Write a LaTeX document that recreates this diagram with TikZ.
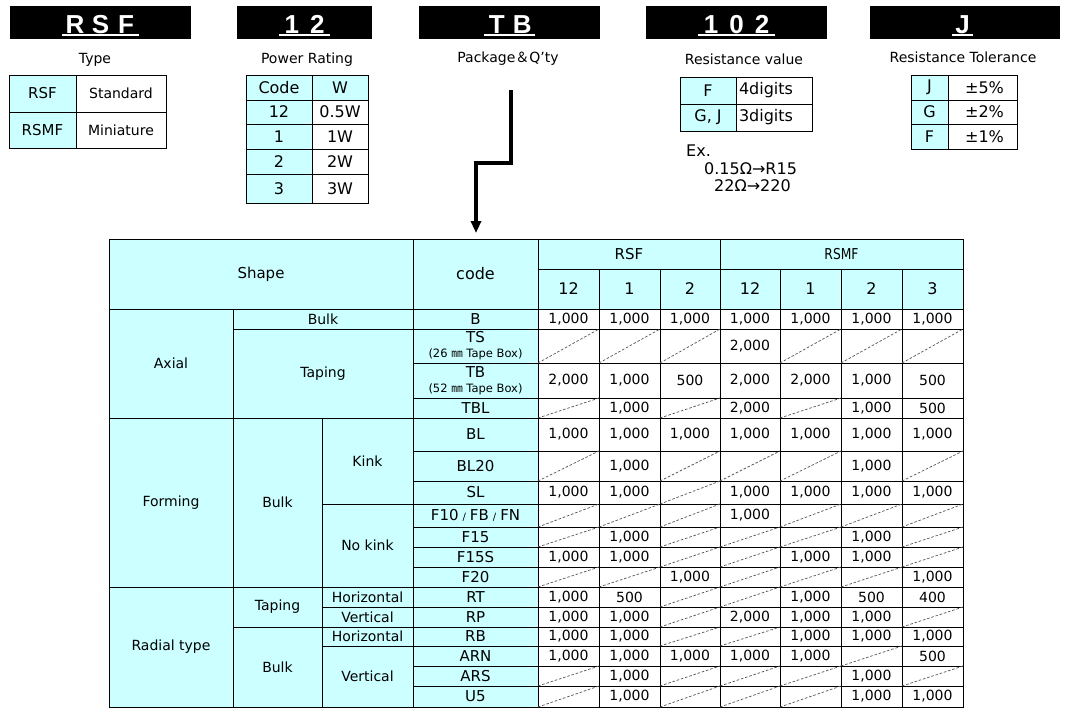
\documentclass[tikz,border=0pt]{standalone}
\usepackage{fontspec}
\usepackage{graphicx}
\setmainfont{DejaVu Sans}
\newfontfamily\ttlfont{Liberation Sans}
\newfontfamily\cjkfont{Noto Sans CJK JP}
\usetikzlibrary{arrows.meta}
\definecolor{cyanfill}{RGB}{204,255,255}
\definecolor{diaggray}{RGB}{85,85,85}
\newcommand\fsz[1]{\fontsize{#1}{#1}\selectfont}
\newcommand\narrow[1]{\scalebox{0.82}[1]{#1}}
\newcommand\tch[1]{\makebox[25.5pt]{#1}}
\newcommand\ttlu[1]{\setbox0=\hbox{#1}\rlap{\rule[-3pt]{\wd0}{2.2pt}}\box0}
\newcommand\tcell[7]{\node[#6, minimum width={(#4)-(#2)}, minimum height={(#5)-(#3)}] (#1) at ({((#2)+(#4))/2},{((#3)+(#5))/2}) {#7};}
\def\dx#1{\ifcase#1 538\or 599\or 660\or 720\or 780\or 841\or 902\or 963\fi}
\def\ry#1{\ifcase#1 309\or 329\or 363\or 398\or 418\or 451\or 481\or 504\or 527\or 547\or 567\or 587\or 607\or 627\or 646\or 666\or 686\or 707\fi}
\newcommand\dcell[3]{%
  \pgfmathtruncatemacro\rnext{#1+1}\pgfmathtruncatemacro\cnext{#2+1}%
  \edef\cxa{\dx{#2}}\edef\cxb{\dx{\cnext}}\edef\cya{\ry{#1}}\edef\cyb{\ry{\rnext}}%
  \node[wcell, minimum width={\cxb-\cxa}, minimum height={\cyb-\cya}] (d-#1-#2) at ({(\cxa+\cxb)/2},{(\cya+\cyb)/2}) {\raisebox{-1.5pt}{#3}};%
  \if\relax\detokenize{#3}\relax\draw[diag] (d-#1-#2.south west) -- (d-#1-#2.north east);\fi}
\newcommand\drow[8]{\dcell{#1}{0}{#2}\dcell{#1}{1}{#3}\dcell{#1}{2}{#4}\dcell{#1}{3}{#5}\dcell{#1}{4}{#6}\dcell{#1}{5}{#7}\dcell{#1}{6}{#8}}
\begin{document}
\begin{tikzpicture}[x=1pt,y=-1pt,
  cellbase/.style={rectangle, draw=black, line width=0.9pt, inner sep=0pt, outer sep=0pt, font=\fsz{14}, align=center},
  hcell/.style={cellbase, fill=cyanfill},
  wcell/.style={cellbase, fill=white},
  codecell/.style={hcell, font=\fsz{15}},
  diag/.style={draw=diaggray, line width=0.7pt, dash pattern=on 2.6pt off 1.8pt},
  titlebox/.style={rectangle, fill=black, inner sep=0pt, outer sep=0pt, minimum height=33pt},
  titletext/.style={inner sep=0pt, text=white, font=\ttlfont\bfseries\fsz{26}, anchor=base},
  caption/.style={inner sep=0pt, font=\fsz{14}, anchor=base},
  extext/.style={inner sep=0pt, font=\fsz{16}, anchor=base west},
  bigarrow/.style={line width=3.3pt, -{Triangle[width=10pt,length=12pt]}}
]
\useasboundingbox (0,0) rectangle (1070,718);
\fill[white] (0,0) rectangle (1070,718);
% title boxes
\node[titlebox, minimum width=181pt] (bRSF) at (100.5,22.5) {};
\node[titletext] (tRSF) at (100.5,33) {\ttlu{\tch{R}\tch{S}\tch{F}}};
\node[titlebox, minimum width=135pt] (b12) at (304.5,22.5) {};
\node[titletext] (t12) at (304.5,33) {\ttlu{\tch{1}\tch{2}}};
\node[titlebox, minimum width=181pt] (bTB) at (509.5,22.5) {};
\node[titletext] (tTB) at (509.5,33) {\ttlu{\tch{T}\tch{B}}};
\node[titlebox, minimum width=181pt] (b102) at (736.5,22.5) {};
\node[titletext] (t102) at (736.5,33) {\ttlu{\tch{1}\tch{0}\tch{2}}};
\node[titlebox, minimum width=190pt] (bJ) at (965,22.5) {};
\node[titletext] (tJ) at (962.5,33) {\ttlu{\makebox[21pt]{J}}};
% captions
\node[caption] (capType) at (95,63) {Type};
\node[caption] (capPow) at (307,63) {Power Rating};
\node[caption] (capPkg) at (508,62) {Package{\cjkfont ＆}Q’ty};
\node[caption] (capRes) at (744,64) {Resistance value};
\node[caption] (capTol) at (963,62) {Resistance Tolerance};
% type table
\tcell{ty1}{9}{75}{76}{112}{hcell}{\fsz{15}RSF}
\tcell{ty2}{76}{75}{166}{112}{wcell}{Standard}
\tcell{ty3}{9}{112}{76}{148}{hcell}{\fsz{15}RSMF}
\tcell{ty4}{76}{112}{166}{148}{wcell}{Miniature}
% power table
\tcell{pw1}{246}{75}{312}{100}{hcell}{\fsz{16}Code}
\tcell{pw2}{312}{75}{368}{100}{hcell}{\fsz{16}W}
\tcell{pw3}{246}{100}{312}{124}{hcell}{\fsz{16}12}
\tcell{pw4}{312}{100}{368}{124}{wcell}{\fsz{16}0.5W}
\tcell{pw5}{246}{124}{312}{149}{hcell}{\fsz{16}1}
\tcell{pw6}{312}{124}{368}{149}{wcell}{\fsz{16}1W}
\tcell{pw7}{246}{149}{312}{174}{hcell}{\fsz{16}2}
\tcell{pw8}{312}{149}{368}{174}{wcell}{\fsz{16}2W}
\tcell{pw9}{246}{174}{312}{203}{hcell}{\fsz{16}3}
\tcell{pw10}{312}{174}{368}{203}{wcell}{\fsz{16}3W}
% resistance value table
\tcell{rv1}{680}{77}{736}{104}{hcell}{\fsz{16}F}
\tcell{rv2}{736}{77}{812}{104}{wcell, text width=70pt, align=left}{\fsz{16}4digits}
\tcell{rv3}{680}{104}{736}{131}{hcell}{\fsz{16}G, J}
\tcell{rv4}{736}{104}{812}{131}{wcell, text width=70pt, align=left}{\fsz{16}3digits}
\node[extext] (ex0) at (686,156) {Ex.};
\node[extext] (ex1) at (704,174) {0.15Ω→R15};
\node[extext] (ex2) at (714,191) {22Ω→220};
% tolerance table
\tcell{tl1}{911}{75}{948}{100}{hcell}{\fsz{16}J}
\tcell{tl2}{948}{75}{1017}{100}{wcell}{\fsz{16}\hspace{4pt}±5\%}
\tcell{tl3}{911}{100}{948}{124}{hcell}{\fsz{16}G}
\tcell{tl4}{948}{100}{1017}{124}{wcell}{\fsz{16}\hspace{4pt}±2\%}
\tcell{tl5}{911}{124}{948}{149}{hcell}{\fsz{16}F}
\tcell{tl6}{948}{124}{1017}{149}{wcell}{\fsz{16}\hspace{4pt}±1\%}
% arrow
\coordinate (ar0) at (511,90);
\coordinate (ar1) at (511,163);
\coordinate (ar2) at (476,163);
\coordinate (ar3) at (476,233);
\draw[bigarrow] (ar0) -- (ar1) -- (ar2) -- (ar3);
% main table header
\tcell{hShape}{109}{239}{413}{309}{hcell}{\fsz{15}Shape}
\tcell{hCode}{413}{239}{538}{309}{hcell}{\fsz{16}code}
\tcell{hRSF}{538}{239}{720}{269}{hcell}{\fsz{15}RSF}
\tcell{hRSMF}{720}{239}{963}{269}{hcell}{\fsz{15}\narrow{RSMF}}
\tcell{hs0}{538}{269}{599}{309}{hcell}{\fsz{16}12}
\tcell{hs1}{599}{269}{660}{309}{hcell}{\fsz{16}1}
\tcell{hs2}{660}{269}{720}{309}{hcell}{\fsz{16}2}
\tcell{hs3}{720}{269}{780}{309}{hcell}{\fsz{16}12}
\tcell{hs4}{780}{269}{841}{309}{hcell}{\fsz{16}1}
\tcell{hs5}{841}{269}{902}{309}{hcell}{\fsz{16}2}
\tcell{hs6}{902}{269}{963}{309}{hcell}{\fsz{16}3}
% left labels
\tcell{lAxial}{109}{309}{233}{418}{hcell}{Axial}
\tcell{lABulk}{233}{309}{413}{329}{hcell}{Bulk}
\tcell{lATaping}{233}{329}{413}{418}{hcell}{Taping}
\tcell{lForming}{109}{418}{233}{587}{hcell}{Forming}
\tcell{lFBulk}{233}{418}{322}{587}{hcell}{Bulk}
\tcell{lKink}{322}{418}{413}{504}{hcell}{Kink}
\tcell{lNoKink}{322}{504}{413}{587}{hcell}{No kink}
\tcell{lRadial}{109}{587}{233}{707}{hcell}{Radial type}
\tcell{lRTaping}{233}{587}{322}{627}{hcell}{Taping}
\tcell{lRBulk}{233}{627}{322}{707}{hcell}{Bulk}
\tcell{lH1}{322}{587}{413}{607}{hcell}{Horizontal}
\tcell{lV1}{322}{607}{413}{627}{hcell}{Vertical}
\tcell{lH2}{322}{627}{413}{646}{hcell}{Horizontal}
\tcell{lV2}{322}{646}{413}{707}{hcell}{Vertical}
% code column
\tcell{c0}{413}{309}{538}{329}{codecell}{B}
\tcell{c1}{413}{329}{538}{363}{codecell}{TS\\\fsz{11.5}(26 {\cjkfont ㎜} Tape Box)}
\tcell{c2}{413}{363}{538}{398}{codecell}{TB\\\fsz{11.5}(52 {\cjkfont ㎜} Tape Box)}
\tcell{c3}{413}{398}{538}{418}{codecell}{TBL}
\tcell{c4}{413}{418}{538}{451}{codecell}{BL}
\tcell{c5}{413}{451}{538}{481}{codecell}{BL20}
\tcell{c6}{413}{481}{538}{504}{codecell}{SL}
\tcell{c7}{413}{504}{538}{527}{codecell}{F10{\fsz{10}\hspace{4pt}/\hspace{4pt}}FB{\fsz{10}\hspace{4pt}/\hspace{4pt}}FN}
\tcell{c8}{413}{527}{538}{547}{codecell}{F15}
\tcell{c9}{413}{547}{538}{567}{codecell}{F15S}
\tcell{c10}{413}{567}{538}{587}{codecell}{F20}
\tcell{c11}{413}{587}{538}{607}{codecell}{RT}
\tcell{c12}{413}{607}{538}{627}{codecell}{RP}
\tcell{c13}{413}{627}{538}{646}{codecell}{RB}
\tcell{c14}{413}{646}{538}{666}{codecell}{ARN}
\tcell{c15}{413}{666}{538}{686}{codecell}{ARS}
\tcell{c16}{413}{686}{538}{707}{codecell}{U5}
% data
\drow{0}{1,000}{1,000}{1,000}{1,000}{1,000}{1,000}{1,000}
\drow{1}{}{}{}{2,000}{}{}{}
\drow{2}{2,000}{1,000}{500}{2,000}{2,000}{1,000}{500}
\drow{3}{}{1,000}{}{2,000}{}{1,000}{500}
\drow{4}{1,000}{1,000}{1,000}{1,000}{1,000}{1,000}{1,000}
\drow{5}{}{1,000}{}{}{}{1,000}{}
\drow{6}{1,000}{1,000}{}{1,000}{1,000}{1,000}{1,000}
\drow{7}{}{}{}{1,000}{}{}{}
\drow{8}{}{1,000}{}{}{}{1,000}{}
\drow{9}{1,000}{1,000}{}{}{1,000}{1,000}{}
\drow{10}{}{}{1,000}{}{}{}{1,000}
\drow{11}{1,000}{500}{}{}{1,000}{500}{400}
\drow{12}{1,000}{1,000}{}{2,000}{1,000}{1,000}{}
\drow{13}{1,000}{1,000}{}{}{1,000}{1,000}{1,000}
\drow{14}{1,000}{1,000}{1,000}{1,000}{1,000}{}{500}
\drow{15}{}{1,000}{}{}{}{1,000}{}
\drow{16}{}{1,000}{}{}{}{1,000}{1,000}
\end{tikzpicture}
\end{document}
